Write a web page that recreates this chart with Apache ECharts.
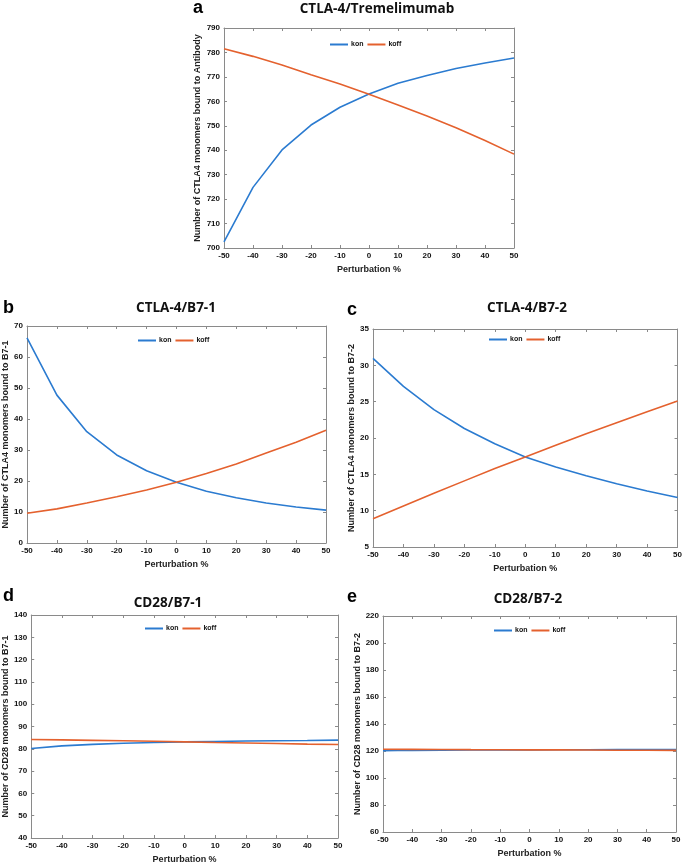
<!DOCTYPE html>
<html>
<head>
<meta charset="utf-8">
<script src="https://cdn.jsdelivr.net/npm/echarts@6/dist/echarts.min.js"></script>
<style>
html,body{margin:0;padding:0;background:#fff;}
#chart{width:685px;height:865px;}
</style>
</head>
<body>
<div id="chart"></div>
<script>
// Perturbation % (x categories)
var perturbation = [-50, -40, -30, -20, -10, 0, 10, 20, 30, 40, 50];

// Panel a: CTLA-4/Tremelimumab
var aKon  = [702.5, 724.8, 740.1, 750.3, 757.6, 763.0, 767.4, 770.6, 773.4, 775.7, 777.7];
var aKoff = [781.5, 778.4, 774.9, 770.9, 767.1, 762.9, 758.5, 754.0, 749.2, 744.0, 738.4];
// Panel b: CTLA-4/B7-1
var bKon  = [66.2, 47.7, 35.9, 28.4, 23.3, 19.6, 16.7, 14.6, 12.9, 11.6, 10.6];
var bKoff = [9.6, 11.0, 12.9, 14.9, 17.1, 19.6, 22.4, 25.5, 29.0, 32.5, 36.4];
// Panel c: CTLA-4/B7-2
var cKon  = [30.95, 27.1, 23.9, 21.3, 19.2, 17.4, 16.0, 14.8, 13.7, 12.7, 11.8];
var cKoff = [8.9, 10.65, 12.4, 14.1, 15.8, 17.4, 19.0, 20.6, 22.1, 23.6, 25.1];
// Panel d: CD28/B7-1
var dKon  = [80.1, 81.3, 82.0, 82.5, 82.8, 83.1, 83.3, 83.5, 83.6, 83.7, 83.9];
var dKoff = [84.2, 84.0, 83.8, 83.6, 83.4, 83.1, 82.8, 82.6, 82.4, 82.1, 81.9];
// Panel e: CD28/B7-2
var eKon  = [120.2, 120.5, 120.6, 120.7, 120.8, 120.85, 120.9, 120.9, 121.0, 121.0, 121.0];
var eKoff = [121.3, 121.2, 121.1, 121.0, 120.95, 120.85, 120.8, 120.7, 120.6, 120.55, 120.5];

var panelLetters = ['a', 'b', 'c', 'd', 'e'];
var panelTitles = ['CTLA-4/Tremelimumab', 'CTLA-4/B7-1', 'CTLA-4/B7-2', 'CD28/B7-1', 'CD28/B7-2'];
var yNames = ['Number of CTLA4 monomers bound to Antibody', 'Number of CTLA4 monomers bound to B7-1',
  'Number of CTLA4 monomers bound to B7-2', 'Number of CD28 monomers bound to B7-1', 'Number of CD28 monomers bound to B7-2'];
var yMin = [700, 0, 5, 40, 60];
var yMax = [790, 70, 35, 140, 220];
var yStep = [10, 10, 5, 10, 20];
var xName = 'Perturbation %';
var konSeries = [aKon, bKon, cKon, dKon, eKon];
var koffSeries = [aKoff, bKoff, cKoff, dKoff, eKoff];

// layout (px)
var grids = [
  {left: 224, top: 28, width: 290, height: 220},
  {left: 27, top: 326, width: 299, height: 217},
  {left: 373, top: 329, width: 306, height: 218},
  {left: 31, top: 615, width: 307, height: 223},
  {left: 383, top: 616, width: 293, height: 216}
];
var titlePos = [[377, 2], [176, 301], [527, 301], [168, 596], [528, 592]];
var letterPos = [[193, -1], [3, 299], [347, 301], [3, 587], [347, 588]];
var legendPos = [[330, 41], [138, 337], [489, 336], [145, 625], [494, 627]];
var yNameGap = [22, 15, 15, 20, 20];

var KON_C = '#2b7bd0', KOFF_C = '#e4612e';
var FONT = 'Liberation Sans, Arial, sans-serif';
var axisLineStyle = {color: '#8a8a8a', width: 1};

function pairs(xs, ys) { return xs.map(function (x, i) { return [x, ys[i]]; }); }

var option = {
  backgroundColor: '#fff',
  animation: false,
  title: [], grid: [], xAxis: [], yAxis: [], series: [], legend: []
};

for (var i = 0; i < 5; i++) {
  option.grid.push(grids[i]);
  option.title.push({
    text: panelTitles[i], left: titlePos[i][0], top: titlePos[i][1], textAlign: 'center', padding: 0,
    textStyle: {fontFamily: 'Open Sans', fontWeight: 'bold', fontSize: 13.5, color: '#111'}
  });
  option.title.push({
    text: panelLetters[i], left: letterPos[i][0], top: letterPos[i][1], padding: 0,
    textStyle: {fontFamily: FONT, fontWeight: 'bold', fontSize: 18, color: '#000'}
  });
  // bottom x axis
  option.xAxis.push({
    type: 'value', gridIndex: i, min: -50, max: 50, interval: 10, position: 'bottom',
    name: xName, nameLocation: 'middle', nameGap: 17,
    nameTextStyle: {fontFamily: FONT, fontWeight: 'bold', fontSize: 9, color: '#222'},
    axisLine: {onZero: false, lineStyle: axisLineStyle},
    axisTick: {inside: true, length: 3, lineStyle: axisLineStyle},
    axisLabel: {fontFamily: FONT, fontWeight: 'bold', fontSize: 8, color: '#111', margin: 4},
    splitLine: {show: false}
  });
  // top x axis (box)
  option.xAxis.push({
    type: 'value', gridIndex: i, min: -50, max: 50, interval: 10, position: 'top',
    axisLine: {onZero: false, lineStyle: axisLineStyle},
    axisTick: {inside: true, length: 3, lineStyle: axisLineStyle},
    axisLabel: {show: false}, splitLine: {show: false}
  });
  option.yAxis.push({
    type: 'value', gridIndex: i, min: yMin[i], max: yMax[i], interval: yStep[i], position: 'left',
    name: yNames[i], nameLocation: 'middle', nameGap: yNameGap[i],
    nameTextStyle: {fontFamily: FONT, fontWeight: 'bold', fontSize: 9, color: '#222'},
    axisLine: {show: true, onZero: false, lineStyle: axisLineStyle},
    axisTick: {show: true, inside: true, length: 3, lineStyle: axisLineStyle},
    axisLabel: {fontFamily: FONT, fontWeight: 'bold', fontSize: 8, color: '#111', margin: 4},
    splitLine: {show: false}
  });
  option.yAxis.push({
    type: 'value', gridIndex: i, min: yMin[i], max: yMax[i], interval: yStep[i], position: 'right',
    axisLine: {show: true, onZero: false, lineStyle: axisLineStyle},
    axisTick: {show: true, inside: true, length: 3, lineStyle: axisLineStyle},
    axisLabel: {show: false}, splitLine: {show: false}
  });
  option.series.push({
    name: 'kon', type: 'line', xAxisIndex: 2 * i, yAxisIndex: 2 * i,
    data: pairs(perturbation, konSeries[i]), symbol: 'none',
    lineStyle: {color: KON_C, width: 1.6}, itemStyle: {color: KON_C}
  });
  option.series.push({
    name: 'koff', type: 'line', xAxisIndex: 2 * i, yAxisIndex: 2 * i,
    data: pairs(perturbation, koffSeries[i]), symbol: 'none',
    lineStyle: {color: KOFF_C, width: 1.6}, itemStyle: {color: KOFF_C}
  });
  option.legend.push({
    left: legendPos[i][0], top: legendPos[i][1], orient: 'horizontal',
    data: ['kon', 'koff'], icon: 'rect', itemWidth: 18, itemHeight: 2, itemGap: 4,
    selectedMode: false, padding: 0,
    textStyle: {fontFamily: FONT, fontWeight: 'bold', fontSize: 7, color: '#111', padding: [0, 0, 0, -2]}
  });
}

var chart = echarts.init(document.getElementById('chart'), null, {renderer: 'canvas'});
chart.setOption(option);
</script>
</body>
</html>
